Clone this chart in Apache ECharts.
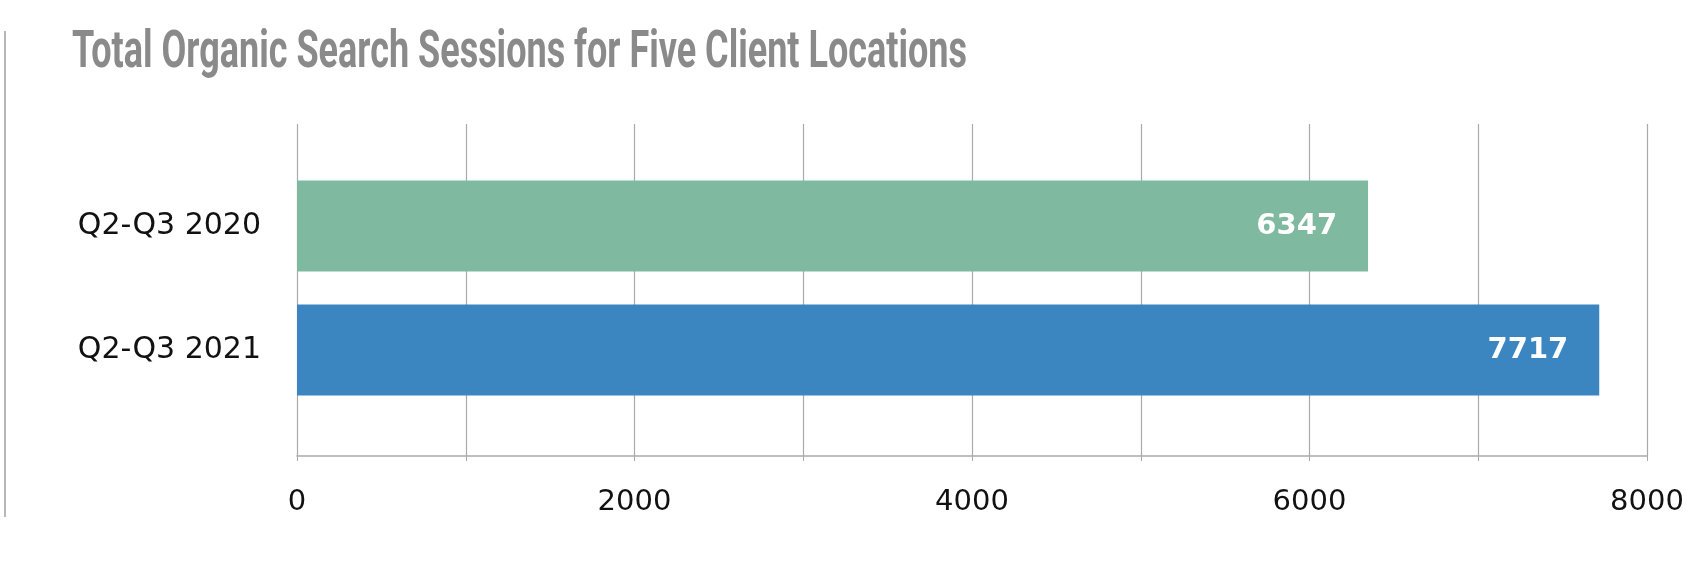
<!DOCTYPE html>
<html lang="en">
<head>
  <meta charset="UTF-8">
  <title>Total Organic Search Sessions</title>
  <style>
    html, body { margin: 0; padding: 0; background: #fff; }
    #main { width: 1688px; height: 566px; }
  </style>
</head>
<body>
  <div id="main"></div>
  <script src="https://cdn.jsdelivr.net/npm/echarts@6/dist/echarts.min.js"></script>
  <script>
    // data
    const periods = ['Q2-Q3 2020', 'Q2-Q3 2021'];
    const sessions = [6347, 7717];
    const barColors = ['#7fbaa0', '#3b86c0'];

    const titleText = 'Total Organic Search Sessions for Five Client Locations';
    const titleFont = 'bold 51px Roboto';

    // squeeze the title so it looks like a condensed face
    const ctx = document.createElement('canvas').getContext('2d');
    ctx.font = titleFont;
    const titleScale = 895 / ctx.measureText(titleText).width;

    const chart = echarts.init(document.getElementById('main'));

    const labelFont = { fontFamily: 'DejaVu Sans', fontSize: 30, color: '#111' };

    const option = {
      backgroundColor: '#fff',
      animation: false,
      graphic: [
        // thin gray rule on the far left
        {
          type: 'line',
          shape: { x1: 5, y1: 31, x2: 5, y2: 517 },
          style: { stroke: '#a0a0a0', lineWidth: 1.5 }
        },
        {
          type: 'text',
          x: 72,
          y: 54,
          scaleX: titleScale,
          style: {
            text: titleText,
            fontFamily: 'Roboto',
            fontWeight: 'bold',
            fontSize: 51,
            fill: '#8a8a8a',
            verticalAlign: 'middle'
          }
        }
      ],
      grid: [
        // bars
        { left: 297, right: 41, top: 164, height: 248 },
        // axis + gridlines
        { left: 297, right: 41, top: 124, height: 332 }
      ],
      xAxis: [
        { gridIndex: 0, type: 'value', min: 0, max: 8000, show: false },
        {
          gridIndex: 1,
          type: 'value',
          min: 0,
          max: 8000,
          interval: 2000,
          axisLine: { show: true, lineStyle: { color: '#aaa', width: 1.5 } },
          axisTick: { show: true, length: 5, lineStyle: { color: '#aaa' } },
          minorTick: { show: true, splitNumber: 2, length: 5, lineStyle: { color: '#aaa' } },
          splitLine: { show: true, lineStyle: { color: '#aaa', width: 1.2 } },
          minorSplitLine: { show: true, lineStyle: { color: '#aaa', width: 1.2 } },
          axisLabel: Object.assign({ margin: 32, formatter: v => String(v) }, labelFont, { fontSize: 29 })
        }
      ],
      yAxis: [
        {
          gridIndex: 0,
          type: 'category',
          data: periods,
          inverse: true,
          axisLine: { show: false },
          axisTick: { show: false },
          axisLabel: Object.assign({ margin: 36 }, labelFont)
        },
        { gridIndex: 1, type: 'value', show: false }
      ],
      series: [
        {
          type: 'bar',
          xAxisIndex: 0,
          yAxisIndex: 0,
          barWidth: 91,
          data: sessions.map((v, i) => ({ value: v, itemStyle: { color: barColors[i] } })),
          label: {
            show: true,
            position: 'insideRight',
            distance: 31,
            color: '#fff',
            fontFamily: 'DejaVu Sans',
            fontWeight: 'bold',
            fontSize: 29
          }
        }
      ]
    };

    chart.setOption(option);
  </script>
</body>
</html>
